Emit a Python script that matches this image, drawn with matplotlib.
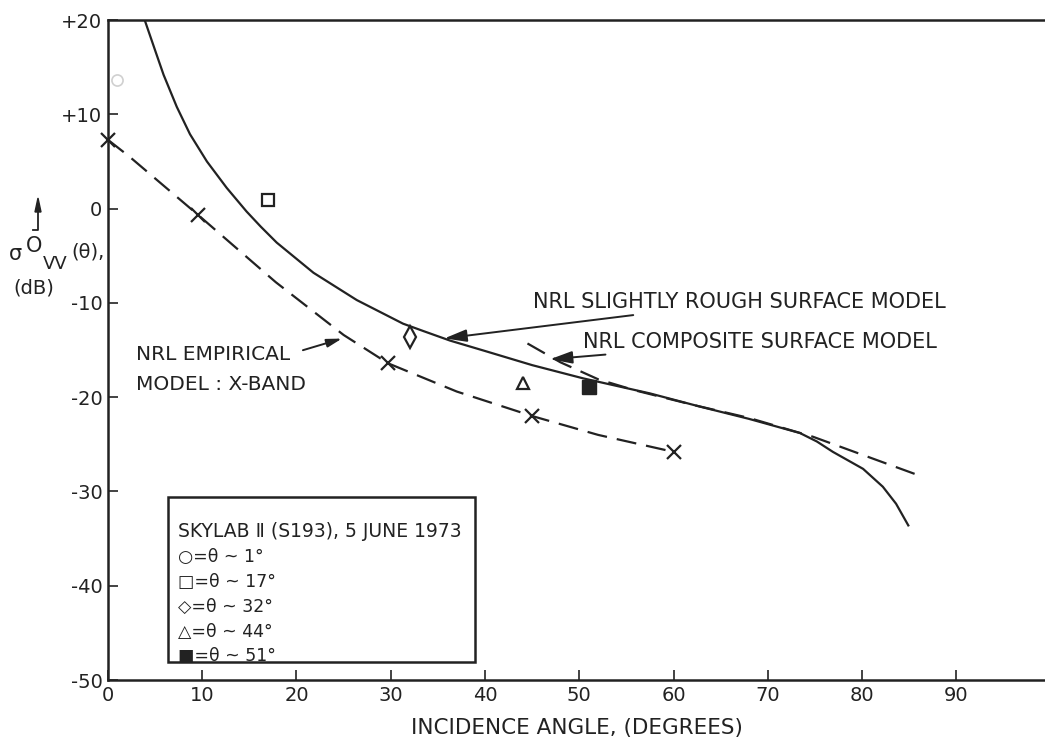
import matplotlib.pyplot as plt
from matplotlib.patches import Rectangle

plt.rcParams["font.family"] = ["DejaVu Sans"]

# NRL slightly rough surface model (solid curve)
rough_angle = [3.9, 5.0, 5.9, 7.3, 8.7, 10.5, 12.6, 14.7, 16.2, 17.9, 21.8, 26.4, 31.3, 33.5,
               36.3, 40.0, 45.0, 50.4, 57.5, 62.8, 68.0, 73.4, 75.2, 76.9, 80.1, 82.2, 83.6, 84.9]
rough_db = [20.0, 16.8, 14.2, 10.8, 7.9, 5.0, 2.2, -0.3, -1.9, -3.6, -6.8, -9.7, -12.2, -13.0,
            -14.0, -15.1, -16.6, -18.0, -19.6, -21.0, -22.3, -23.8, -24.7, -25.8, -27.6, -29.5, -31.3, -33.6]

# NRL composite surface model (dashed)
composite_angle = [44.5, 48.0, 52.0, 56.0, 62.0, 68.0, 74.8, 86.3]
composite_db = [-14.3, -16.3, -18.1, -19.3, -20.8, -22.2, -24.2, -28.4]

# NRL empirical model, X-band (dashed with x marks)
empirical_angle = [0.0, 2.3, 9.6, 17.8, 25.0, 29.7, 37.0, 45.0, 52.0, 60.0]
empirical_db = [7.3, 5.5, -0.7, -7.8, -13.4, -16.4, -19.4, -22.0, -24.0, -25.8]
cross_angle = [0.0, 9.6, 29.7, 45.0, 60.0]
cross_db = [7.3, -0.7, -16.4, -22.0, -25.8]

# Skylab II (S193) measurements, 5 June 1973
skylab_angle = [1, 17, 32, 44, 51]
skylab_db = [13.6, 0.9, -13.6, -18.5, -18.9]

x_ticks = [0, 10, 20, 30, 40, 50, 60, 70, 80, 90]
y_ticks = [20, 10, 0, -10, -20, -30, -40, -50]
y_tick_labels = ["+20", "+10", "0", "-10", "-20", "-30", "-40", "-50"]

ink = "#222222"
dash = (0, (9, 4.5))

fig = plt.figure(figsize=(10.45, 7.44), dpi=100)
ax = fig.add_axes([0.1033, 0.086, 0.8967, 0.887])
ax.set_xlim(0, 99.4)
ax.set_ylim(-50, 20)

ax.plot(rough_angle, rough_db, color=ink, lw=1.6)
ax.plot(composite_angle, composite_db, color=ink, lw=1.6, linestyle=dash)
ax.plot(empirical_angle, empirical_db, color=ink, lw=1.6, linestyle=dash)
ax.plot(cross_angle, cross_db, linestyle="none", marker="x", ms=10, mew=1.6, color=ink,
        clip_on=False)

ax.plot(skylab_angle[0], skylab_db[0], marker="o", ms=8, mfc="none", mec="#d0d0d0", mew=1.2)
ax.plot(skylab_angle[1], skylab_db[1], marker="s", ms=9, mfc="none", mec=ink, mew=1.6)
ax.plot(skylab_angle[2], skylab_db[2], marker="d", ms=11, mfc="none", mec=ink, mew=1.6)
ax.plot(skylab_angle[3], skylab_db[3], marker="^", ms=9, mfc="none", mec=ink, mew=1.6)
ax.plot(skylab_angle[4], skylab_db[4], marker="s", ms=10, mfc=ink, mec=ink)

# annotations
arrow = dict(arrowstyle="-|>,head_length=0.9,head_width=0.25", color=ink, lw=1.4)
ax.annotate("NRL SLIGHTLY ROUGH SURFACE MODEL", xy=(35.4, -13.8), xytext=(45.1, -9.9),
            fontsize=15, color=ink, va="center", ha="left", arrowprops=arrow)
ax.annotate("NRL COMPOSITE SURFACE MODEL", xy=(46.6, -16.0), xytext=(50.4, -14.1),
            fontsize=15, color=ink, va="center", ha="left", arrowprops=arrow)
ax.annotate("", xy=(25.1, -13.7), xytext=(20.4, -15.1), arrowprops=arrow)
ax.text(3.0, -15.5, "NRL EMPIRICAL", fontsize=14.5, color=ink, va="center", ha="left")
ax.text(3.0, -18.7, "MODEL : X-BAND", fontsize=14.5, color=ink, va="center", ha="left")

# legend box
ax.add_patch(Rectangle((6.4, -48.1), 32.5, 17.5, fill=False, ec=ink, lw=1.8))
ax.text(7.4, -34.2, "SKYLAB \u2161 (S193), 5 JUNE 1973", fontsize=13.5, color=ink, va="center")
legend_rows = ["\u25cb=\u03b8 ~ 1\u00b0", "\u25a1=\u03b8 ~ 17\u00b0", "\u25c7=\u03b8 ~ 32\u00b0",
               "\u25b3=\u03b8 ~ 44\u00b0", "\u25a0=\u03b8 ~ 51\u00b0"]
for i, row in enumerate(legend_rows):
    ax.text(7.4, -37.0 - 2.62 * i, row, fontsize=12.5, color=ink, va="center")

ax.set_xticks(x_ticks)
ax.set_yticks(y_ticks)
ax.set_yticklabels(y_tick_labels)
ax.tick_params(direction="in", length=7, width=1.2, labelsize=14, colors=ink, pad=4)
ax.spines["right"].set_visible(False)
for side in ["left", "bottom", "top"]:
    ax.spines[side].set_linewidth(1.8)
    ax.spines[side].set_color(ink)

ax.set_xlabel("INCIDENCE ANGLE, (DEGREES)", fontsize=15.5, color=ink, labelpad=10)

# y-axis label: sigma-zero VV (theta), (dB)
fig.text(15 / 1045, 1 - 254 / 744, "\u03c3", fontsize=15, color=ink, va="center", ha="center")
fig.text(34 / 1045, 1 - 246 / 744, "O", fontsize=15, color=ink, va="center", ha="center")
fig.text(55 / 1045, 1 - 264 / 744, "VV", fontsize=13, color=ink, va="center", ha="center")
fig.text(88 / 1045, 1 - 252 / 744, "(\u03b8),", fontsize=14, color=ink, va="center", ha="center")
fig.text(34 / 1045, 1 - 288 / 744, "(dB)", fontsize=14, color=ink, va="center", ha="center")
fig.add_artist(plt.Line2D([33 / 1045, 38 / 1045, 38 / 1045],
                          [1 - 230 / 744, 1 - 230 / 744, 1 - 210 / 744],
                          transform=fig.transFigure, color=ink, lw=1.3))
fig.patches.append(plt.Polygon([[35 / 1045, 1 - 212 / 744], [41 / 1045, 1 - 212 / 744],
                                [38 / 1045, 1 - 198 / 744]], closed=True,
                               transform=fig.transFigure, color=ink))

fig.savefig("out.png", dpi=100, facecolor="white")
